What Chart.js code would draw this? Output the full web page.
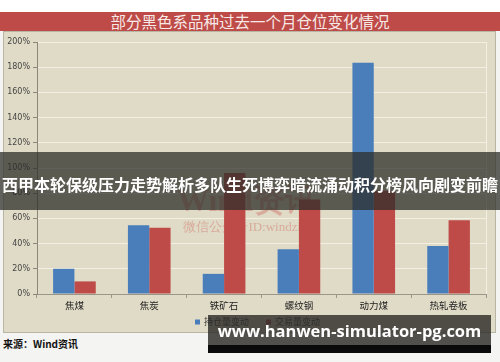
<!DOCTYPE html>
<html>
<head>
<meta charset="utf-8">
<script src="https://cdn.jsdelivr.net/npm/chart.js@4"></script>
<style>
  html, body { margin: 0; padding: 0; }
  body { width: 500px; height: 362px; position: relative; overflow: hidden; background: #f4f4f2; font-family: "Noto Sans CJK SC", sans-serif; }
  #top { position: absolute; left: 0; top: 0; width: 500px; height: 12px; background: #fff; }
  #title { position: absolute; left: 0; top: 12px; width: 500px; height: 19px; background: #be4b48;
           color: #f7e9e6; font-size: 15.5px; line-height: 19px; text-align: center; }
  #panel { position: absolute; left: 3px; top: 31px; width: 491px; height: 300px; background: #e0dbc6;
           border: 1px solid #b9b5a5; }
  #chart { position: absolute; left: 0; top: 0; }
  #source { position: absolute; left: 3px; top: 336px; font-size: 10px; color: #111; font-weight: bold; }
  #banner { position: absolute; left: 0; top: 152px; width: 500px; height: 55px; padding-top: 3px; background: rgba(45,44,40,0.74);
            color: #fff; font-size: 16px; font-weight: bold; line-height: 58px; text-align: center; white-space: nowrap; }
  #site { position: absolute; left: 208px; top: 315px; width: 283px; height: 30px; background: rgba(45,44,40,0.82);
          color: #fff; font-family: "Open Sans", sans-serif; font-weight: bold; font-size: 16.5px; line-height: 32px;
          text-align: center; white-space: nowrap; overflow: hidden; }
  #site2 { position: absolute; left: 208px; top: 345px; width: 283px; height: 8px; background: #0a0a0a; }
</style>
</head>
<body>
<div id="top"></div>
<div id="title">部分黑色系品种过去一个月仓位变化情况</div>
<div id="panel"><canvas id="chart" width="491" height="300"></canvas></div>
<div id="source">来源：Wind资讯</div>
<div id="banner">西甲本轮保级压力走势解析多队生死博弈暗流涌动积分榜风向剧变前瞻</div>
<div id="site">www.hanwen-simulator-pg.com</div>
<div id="site2"></div>
<script>
// categories and series (percent)
var categories = ["焦煤", "焦炭", "铁矿石", "螺纹钢", "动力煤", "热轧卷板"];
var seriesNames = ["持仓量变动", "交易量变动"];
var holdChange = [20, 54.5, 16, 35.5, 183.5, 38];
var tradeChange = [10, 52.5, 96, 75, 82, 58.5];
var yTicks = [0, 20, 40, 60, 80, 100, 120, 140, 160, 180, 200];

// faint "Wind资讯" watermark behind the bars, plus the light right edge of the plot
var windMark = {
  id: "windMark",
  beforeDatasetsDraw: function(chart) {
    var ctx = chart.ctx;
    var a = chart.chartArea;
    ctx.save();
    ctx.strokeStyle = "#f3efe2";
    ctx.lineWidth = 1;
    ctx.beginPath();
    ctx.moveTo(Math.round(a.right) + 0.5, a.top);
    ctx.lineTo(Math.round(a.right) + 0.5, a.bottom);
    ctx.stroke();
    ctx.fillStyle = "rgba(200,70,70,0.33)";
    ctx.textAlign = "center";
    ctx.textBaseline = "middle";
    ctx.font = "bold 32px 'Liberation Serif', serif";
    ctx.fillText("Wind资讯", 243, 171);
    ctx.font = "13px 'Liberation Serif', serif";
    ctx.fillText("微信公众号ID:windzixun", 248, 196);
    ctx.restore();
  }
};

// small square legend, Excel style, under the axis
var smallLegend = {
  id: "smallLegend",
  afterDraw: function(chart) {
    var ctx = chart.ctx;
    var sets = chart.data.datasets;
    var box = 5, gapText = 4, gapItem = 17;
    ctx.save();
    ctx.font = "9px 'Noto Sans CJK SC', sans-serif";
    ctx.textBaseline = "middle";
    var total = 0;
    sets.forEach(function(d, i) {
      total += box + gapText + ctx.measureText(d.label).width + (i ? gapItem : 0);
    });
    var x = (chart.chartArea.left + chart.chartArea.right) / 2 - total / 2 - 4;
    var y = chart.chartArea.bottom + 28;
    sets.forEach(function(d) {
      ctx.fillStyle = d.backgroundColor;
      ctx.fillRect(x, y - box / 2, box, box);
      x += box + gapText;
      ctx.fillStyle = "#333";
      ctx.fillText(d.label, x, y);
      x += ctx.measureText(d.label).width + gapItem;
    });
    ctx.restore();
  }
};

var ctx = document.getElementById("chart").getContext("2d");
var myChart = new Chart(ctx, {
  type: "bar",
  data: {
    labels: categories,
    datasets: [{
      label: seriesNames[0],
      data: holdChange,
      backgroundColor: "#4a7ebb"
    }, {
      label: seriesNames[1],
      data: tradeChange,
      backgroundColor: "#be4b48"
    }]
  },
  options: {
    responsive: false,
    animation: false,
    devicePixelRatio: 1,
    layout: { padding: { top: 10, right: 9, bottom: 18, left: 0 } },
    categoryPercentage: 0.57,
    barPercentage: 1.0,
    plugins: {
      legend: { display: false },
      tooltip: { enabled: false }
    },
    scales: {
      x: {
        afterFit: function(s) { s.height = 20; },
        grid: { drawOnChartArea: false, tickLength: 4, tickColor: "#9a978a" },
        border: { color: "#9a978a" },
        ticks: { color: "#222", padding: 2, font: { size: 9.5, family: "'Noto Sans CJK SC', sans-serif" } }
      },
      y: {
        min: 0, max: 200,
        afterFit: function(s) { s.width = 33; },
        afterBuildTicks: function(s) { s.ticks = yTicks.map(function(v) { return { value: v }; }); },
        grid: { color: "#f3efe2", lineWidth: 1, tickLength: 4, tickColor: "#8a877b" },
        border: { color: "#8a877b" },
        ticks: {
          color: "#444", padding: 3,
          font: { size: 8, family: "'DejaVu Sans', sans-serif" },
          callback: function(v) { return v + "%"; }
        }
      }
    }
  },
  plugins: [windMark, smallLegend]
});
</script>
</body>
</html>
